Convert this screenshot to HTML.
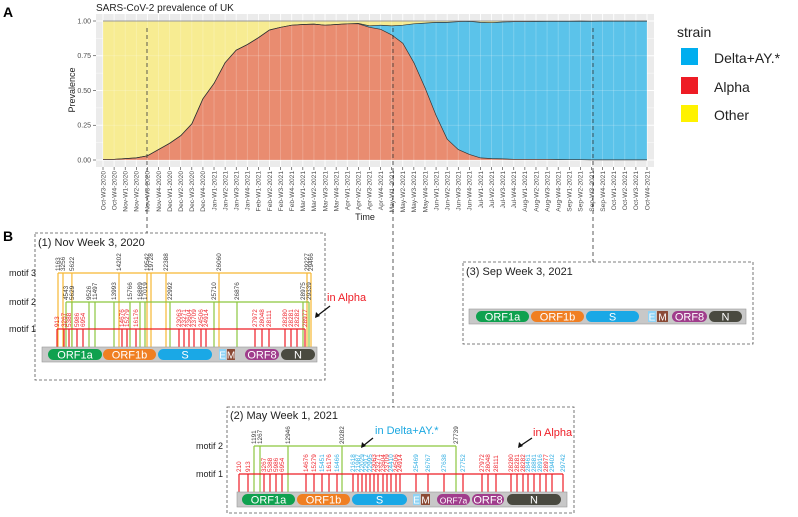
<!DOCTYPE html>
<html><head><meta charset="utf-8"><style>
html,body{margin:0;padding:0;background:#fff;}
svg{display:block;font-family:"Liberation Sans",sans-serif;}
</style></head><body>
<svg id="fig" width="798" height="517" viewBox="0 0 798 517" xmlns="http://www.w3.org/2000/svg">
<text x="3" y="17" font-size="14" font-weight="bold">A</text>
<text x="96" y="11" font-size="10" fill="#222">SARS-CoV-2 prevalence of UK</text>
<rect x="96" y="14" width="558" height="153" fill="#ebebeb"/>
<g id="grid"></g>
<g id="areas"></g>
<g id="yaxis"></g>
<g id="xaxis"></g>
<text transform="translate(75,90) rotate(-90)" text-anchor="middle" font-size="9" fill="#222">Prevalence</text>
<text x="365" y="220" text-anchor="middle" font-size="9" fill="#222">Time</text>
<g>
<text x="677" y="37" font-size="14" fill="#222">strain</text>
<rect x="681" y="48" width="17" height="17" fill="#00aeef"/>
<text x="714" y="63" font-size="14" fill="#222">Delta+AY.*</text>
<rect x="681" y="77" width="17" height="17" fill="#ee1c25"/>
<text x="714" y="92" font-size="14" fill="#222">Alpha</text>
<rect x="681" y="105" width="17" height="17" fill="#fff200"/>
<text x="714" y="120" font-size="14" fill="#222">Other</text>
</g>
<g stroke="#333" stroke-width="0.8" stroke-dasharray="4,3" fill="none">
<line x1="147" y1="28" x2="147" y2="233"/>
<line x1="393" y1="28" x2="393" y2="407"/>
<line x1="593" y1="28" x2="593" y2="262"/>
</g>
<text x="3" y="241" font-size="14" font-weight="bold">B</text>
<g fill="none" stroke="#555" stroke-width="0.8" stroke-dasharray="3,2">
<rect x="35" y="233" width="290" height="147"/>
<rect x="227" y="407" width="347" height="106"/>
<rect x="463" y="262" width="290" height="82"/>
</g>
<text x="38" y="246" font-size="11" fill="#222">(1) Nov Week 3, 2020</text>
<text x="230" y="419" font-size="11" fill="#222">(2) May Week 1, 2021</text>
<text x="466" y="275" font-size="11" fill="#222">(3) Sep Week 3, 2021</text>
<g font-size="9" fill="#222" text-anchor="end">
<text x="36" y="276">motif 3</text>
<text x="36" y="305">motif 2</text>
<text x="36" y="332">motif 1</text>
<text x="223" y="449">motif 2</text>
<text x="223" y="477">motif 1</text>
</g>
<g id="p1"></g>
<g id="p2"></g>
<g id="p3"></g>
<text x="327" y="301" font-size="11" fill="#ee1c25">in Alpha</text>
<line x1="330" y1="306" x2="317" y2="316" stroke="#111" stroke-width="1.3"/>
<path d="M315,318 L316,312 L320,316 Z" fill="#111"/>
<text x="375" y="434" font-size="11" fill="#1aa7e0">in Delta+AY.*</text>
<line x1="373" y1="438" x2="363" y2="446" stroke="#111" stroke-width="1.3"/>
<path d="M361,448 L362,442 L366,446 Z" fill="#111"/>
<text x="533" y="436" font-size="11" fill="#ee1c25">in Alpha</text>
<line x1="532" y1="438" x2="520" y2="446" stroke="#111" stroke-width="1.3"/>
<path d="M518,448 L519,442 L523,446 Z" fill="#111"/>
</svg>
<script>
const weeks = ["Oct-W3-2020","Oct-W4-2020","Nov-W1-2020","Nov-W2-2020","Nov-W3-2020","Nov-W4-2020","Dec-W1-2020","Dec-W2-2020","Dec-W3-2020","Dec-W4-2020","Jan-W1-2021","Jan-W2-2021","Jan-W3-2021","Jan-W4-2021","Feb-W1-2021","Feb-W2-2021","Feb-W3-2021","Feb-W4-2021","Mar-W1-2021","Mar-W2-2021","Mar-W3-2021","Mar-W4-2021","Apr-W1-2021","Apr-W2-2021","Apr-W3-2021","Apr-W4-2021","May-W1-2021","May-W2-2021","May-W3-2021","May-W4-2021","Jun-W1-2021","Jun-W2-2021","Jun-W3-2021","Jun-W4-2021","Jul-W1-2021","Jul-W2-2021","Jul-W3-2021","Jul-W4-2021","Aug-W1-2021","Aug-W2-2021","Aug-W3-2021","Aug-W4-2021","Sep-W1-2021","Sep-W2-2021","Sep-W3-2021","Sep-W4-2021","Oct-W1-2021","Oct-W2-2021","Oct-W3-2021","Oct-W4-2021"];
const alpha = [0.005,0.005,0.01,0.015,0.03,0.075,0.12,0.175,0.26,0.44,0.55,0.70,0.79,0.83,0.88,0.935,0.955,0.97,0.975,0.978,0.97,0.975,0.98,0.98,0.955,0.94,0.90,0.84,0.70,0.52,0.32,0.15,0.075,0.04,0.015,0.01,0.008,0.005,0.005,0.005,0.005,0.003,0.002,0.002,0.001,0.001,0.001,0.001,0.001,0.001];
const delta = [0,0,0,0,0,0,0,0,0,0,0,0,0,0,0,0,0,0,0,0,0,0,0,0.003,0.01,0.03,0.065,0.13,0.28,0.465,0.67,0.84,0.92,0.958,0.975,0.978,0.985,0.99,0.99,0.992,0.993,0.995,0.996,0.997,0.997,0.998,0.998,0.998,0.998,0.998];
const yTicks = [0,0.25,0.5,0.75,1];
const yTickLabels = ["0.00","0.25","0.50","0.75","1.00"];

const geneNames  = ["ORF1a","ORF1b","S","E","M","ORF7a","ORF8","N"];
const geneColors = ["#0fa14f","#f07f22","#1aa8e6","#8fd3f5","#8b4a35","#a03d8c","#a03d8c","#4a4a40"];

const p1Motif3 = [1163,3256,5622,14202,19542,19728,22388,26060,29227,29466];
const p1Motif2 = [4543,5629,9526,11497,13993,15766,16889,17019,22992,25710,26876,28975,29339];
const p1Motif1 = [913,3267,5388,5986,6954,14676,15279,16176,23063,23271,23604,23709,24506,24914,27972,28048,28111,28280,28281,28282,28977];
const p2Motif2 = [1191,1267,12946,20282,27739];
const p2Alpha = [210,913,3267,5388,5986,6954,14676,15279,16176,23063,23271,23604,23709,24506,24914,27972,28048,28111,28280,28281,28282,28977];
const p2Delta = [15451,16466,21618,21987,22029,22917,22995,24410,25469,26767,27638,27752,28461,28881,28916,29402,29742];

(function(){
const NS="http://www.w3.org/2000/svg";
function mk(tag, attrs, parent){const e=document.createElementNS(NS,tag);for(const k in attrs)e.setAttribute(k,attrs[k]);parent.appendChild(e);return e;}
const X0=103, X1=647, Y0=160, Y1=21;
const xs = i => X0 + i*(X1-X0)/(weeks.length-1);
const ys = v => Y0 - v*(Y0-Y1);

const grid=document.getElementById('grid');
for(let k=0;k<=8;k++){
  const v=k/8;
  const l=mk('line',{x1:96,x2:654,y1:ys(v),y2:ys(v),stroke:'#fff','stroke-width':(k%2===0)?0.9:0.4},grid);
  
  
}
weeks.forEach((w,i)=>{
  const l=mk('line',{x1:xs(i),x2:xs(i),y1:14,y2:167,stroke:'#fff','stroke-width':0.9},grid);
  
  
});

const areas=document.getElementById('areas');
const n=weeks.length;
const topPts=[],midPts=[],botPts=[];
for(let i=0;i<n;i++){topPts.push([xs(i),ys(1)]);midPts.push([xs(i),ys(alpha[i]+delta[i])]);botPts.push([xs(i),ys(alpha[i])]);}
const pts=a=>a.map(p=>p[0].toFixed(1)+','+p[1].toFixed(1)).join(' ');
const pOther=mk('polygon',{points:pts(topPts)+' '+pts(midPts.slice().reverse()),fill:'#f7ec92'},areas);


const pDelta=mk('polygon',{points:pts(midPts)+' '+pts(botPts.slice().reverse()),fill:'#5bc3ea'},areas);


const pAlpha=mk('polygon',{points:pts(botPts)+' '+xs(n-1)+','+ys(0)+' '+xs(0)+','+ys(0),fill:'#e98c70'},areas);


for(let k=0;k<=4;k++){
  const v=k/4;
  const l=mk('line',{x1:X0,x2:X1,y1:ys(v),y2:ys(v),stroke:'#fff','stroke-opacity':0.25,'stroke-width':0.8},areas);
  
  
}
weeks.forEach((w,i)=>{
  const l=mk('line',{x1:xs(i),x2:xs(i),y1:Y1,y2:Y0,stroke:'#fff','stroke-opacity':0.25,'stroke-width':0.8},areas);
  
  
});
const lTop=mk('polyline',{points:pts(topPts),fill:'none',stroke:'#999','stroke-width':1},areas);


const lMid=mk('polyline',{points:pts(midPts),fill:'none',stroke:'#333','stroke-width':0.7},areas);


const lBot=mk('polyline',{points:pts(botPts),fill:'none',stroke:'#333','stroke-width':0.7},areas);



const yax=document.getElementById('yaxis');
yTicks.forEach((v,i)=>{
  const t=mk('line',{x1:93,x2:96,y1:ys(v),y2:ys(v),stroke:'#333','stroke-width':0.6},yax);
  
  
  const tx=mk('text',{x:91,y:ys(v)+2.3,'font-size':7,'text-anchor':'end',fill:'#4d4d4d'},yax);
  tx.textContent=yTickLabels[i];
  
  
});
const xax=document.getElementById('xaxis');
weeks.forEach((w,i)=>{
  const t=mk('line',{x1:xs(i),x2:xs(i),y1:167,y2:170,stroke:'#333','stroke-width':0.6},xax);
  
  
  const tx=mk('text',{transform:`translate(${(xs(i)+2.3).toFixed(1)},171) rotate(-90)`,'font-size':6.6,'text-anchor':'end',fill:'#4d4d4d'},xax);
  tx.textContent=w;
  
  
});

// schematic (non-linear) genome-position -> x layout anchors for each panel
const p1Layout=[[0,50],[913,57],[1163,58],[3256,63],[3267,64],[4543,66],[5388,69],[5629,72],[5986,77],[6954,83],[9526,89],[11497,95],[13993,114],[14202,119],[14676,122],[15279,127],[15766,130],[16176,136],[16889,140],[17019,145],[19542,147],[19728,151],[22388,166],[22992,170],[23063,179],[23271,184],[23604,189],[23709,194],[24506,201],[24914,206],[25710,214],[26060,219],[26876,237],[27972,255],[28048,262],[28111,269],[28280,285],[28281,291],[28282,297],[28975,303],[28977,305],[29227,307],[29339,309],[29466,311],[29903,315]];
const p2Layout=[[0,236],[210,239],[913,248],[1191,254],[1267,260],[3267,264],[5388,270],[5986,276],[6954,282],[12946,288],[14676,306],[15279,314],[15451,322],[16176,329],[16466,337],[20282,342],[21618,353],[21987,358],[22029,362],[22917,366],[22995,370],[23063,374],[23271,378],[23604,383],[23709,387],[24410,391],[24506,396],[24914,400],[25469,416],[26767,428],[27638,444],[27739,456],[27752,463],[27972,482],[28048,488],[28111,496],[28280,511],[28281,517],[28282,523],[28461,528],[28881,534],[28916,540],[28977,546],[29402,552],[29742,563],[29903,566]];

function panel(g, cfg){
  const anchors=cfg.layout||[[0,0],[29903,1]];
  const gx=pos=>{for(let k=0;k<anchors.length-1;k++){const p0=anchors[k][0],x0=anchors[k][1],p1=anchors[k+1][0],x1=anchors[k+1][1];if(pos<=p1){return p1===p0?x0:x0+(pos-p0)/(p1-p0)*(x1-x0);}}return anchors[anchors.length-1][1];};
  cfg.motifs.forEach(m=>{
    if(!m.pos.length) return;
    const xsM=m.pos.map(gx);
    const hl=mk('line',{x1:Math.min(...xsM),x2:Math.max(...xsM),y1:m.y,y2:m.y,stroke:m.color,'stroke-width':1.3},g);
    
    
    m.pos.forEach((p,i)=>{
      const x=xsM[i];
      const vl=mk('line',{x1:x,x2:x,y1:m.y,y2:cfg.barY+1,stroke:m.color,'stroke-width':1.2},g);
      
      
      const col=(m.blue&&m.blue.includes(p))?'#29abe2':(m.labelColor||'#333');
      const t=mk('text',{transform:`translate(${(x+2.2).toFixed(1)},${m.y-2}) rotate(-90)`,'font-size':6.4,fill:col},g);
      t.textContent=String(p);
      
      
    });
  });
  const bar=mk('rect',{x:cfg.barX0,y:cfg.barY,width:cfg.barX1-cfg.barX0,height:15,fill:'#c8c8c8',stroke:'#9a9a9a','stroke-width':0.6},g);
  
  
  cfg.genes.forEach(([gi,a,b])=>{
    const small=(b-a)<12;
    const r=mk('rect',{x:a,y:cfg.barY+2,width:b-a,height:11,rx:small?0.5:5.5,fill:geneColors[gi]},g);
    
    
    const t=mk('text',{x:(a+b)/2,y:cfg.barY+11.5,'text-anchor':'middle','font-size':geneNames[gi]==='ORF7a'?8.5:(small?10:11),fill:'#fff'},g);
    t.textContent=geneNames[gi];
    
    
  });
}
panel(document.getElementById('p1'),{barX0:42,barX1:317,barY:347,layout:p1Layout,
  genes:[[0,48,102],[1,103,156],[2,158,212],[3,219,226],[4,227,235],[6,245,279],[7,281,315]],
  motifs:[{pos:p1Motif3,y:273,color:'#f7b733'},{pos:p1Motif2,y:302,color:'#8cc63f'},{pos:p1Motif1,y:329,color:'#ee1c25',labelColor:'#ee1c25'}]});
panel(document.getElementById('p2'),{barX0:237,barX1:567,barY:492,layout:p2Layout,
  genes:[[0,242,295],[1,297,350],[2,352,407],[3,413,420],[4,421,430],[5,437,470],[6,472,504],[7,507,561]],
  motifs:[{pos:p2Motif2,y:446,color:'#8cc63f'},{pos:p2Alpha.concat(p2Delta),y:474,color:'#ee1c25',labelColor:'#ee1c25',blue:p2Delta}]});
panel(document.getElementById('p3'),{barX0:469,barX1:746,barY:309,
  genes:[[0,476,529],[1,531,584],[2,586,639],[3,648,656],[4,657,668],[6,672,707],[7,709,742]],
  motifs:[]});
})();
</script>
</body></html>
